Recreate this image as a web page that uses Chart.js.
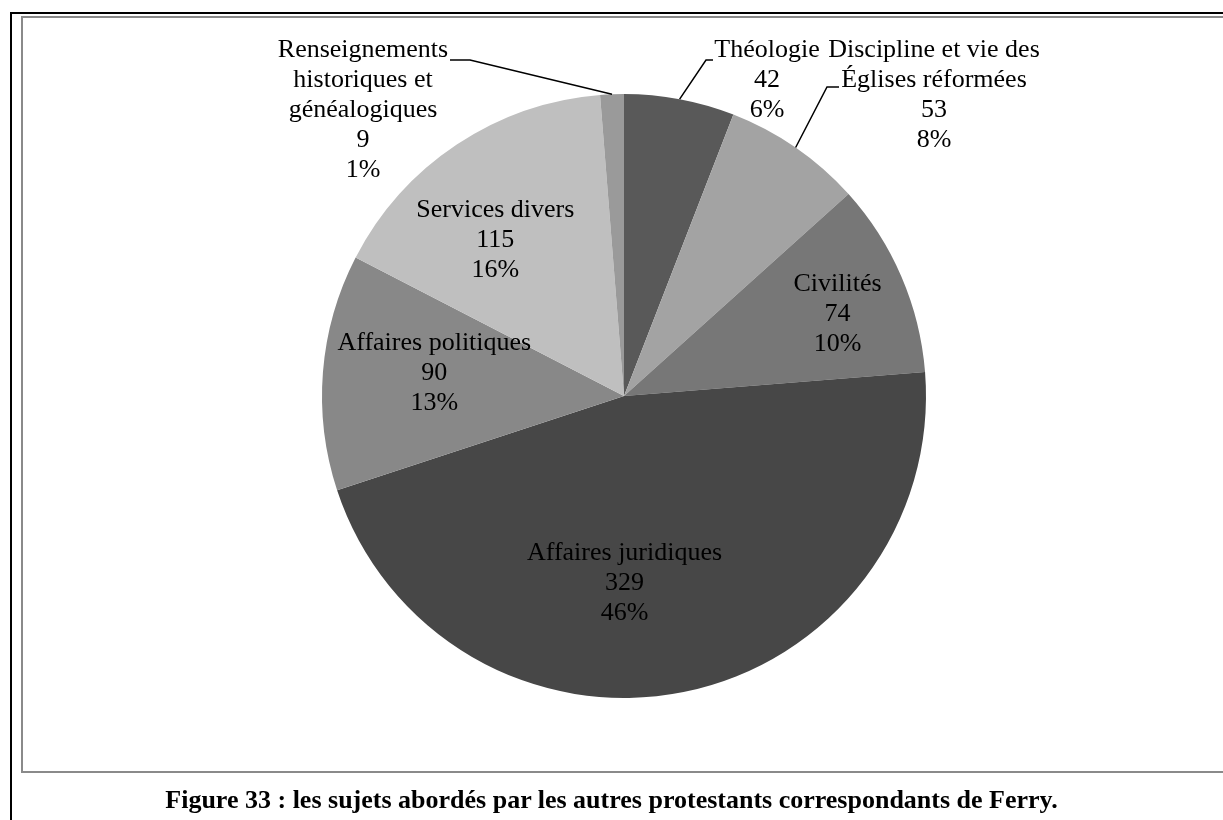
<!DOCTYPE html>
<html>
<head>
<meta charset="utf-8">
<script src="https://cdn.jsdelivr.net/npm/chart.js@4.4.1/dist/chart.umd.min.js"></script>
<style>
html, body { margin: 0; padding: 0; background: #fff; overflow: hidden; }
#wrap { position: relative; width: 1223px; height: 820px; }
#outer { position: absolute; left: 10px; top: 12px; width: 1300px; height: 900px; border: 2px solid #000; }
#inner { position: absolute; left: 21px; top: 16px; width: 1300px; height: 753px; border: 2px solid #8a8a8a; }
#chartBox { position: absolute; left: 0; top: 0; width: 1223px; height: 820px; }
#caption { position: absolute; left: 0; width: 1223px; top: 785px; text-align: center;
  font: bold 26px "Liberation Serif", "Times New Roman", serif; color: #000; }
</style>
</head>
<body>
<div id="wrap">
  <div id="outer"></div>
  <div id="inner"></div>
  <div id="chartBox"><canvas id="pieChart"></canvas></div>
  <div id="caption">Figure 33 : les sujets abordés par les autres protestants correspondants de Ferry.</div>
</div>
<script>
// Data
const categories = [
    'Théologie',
    'Discipline et vie des\nÉglises réformées',
    'Civilités',
    'Affaires juridiques',
    'Affaires politiques',
    'Services divers',
    'Renseignements\nhistoriques et\ngénéalogiques'
];
const values = [42, 53, 74, 329, 90, 115, 9];
const percentLabels = ['6%', '8%', '10%', '46%', '13%', '16%', '1%'];

const sliceColors = ['#595959', '#a3a3a3', '#777777', '#474747', '#888888', '#bfbfbf', '#9a9a9a'];

// label placement: inside labels sit along the slice bisector, outside ones get a leader line
const LINE_H = 30;
const labelLayout = [
    { inside: false, x: 767, y: 50, anchor: 0.5, elbow: [706, 60], tick: [713, 60] },
    { inside: false, x: 934, y: 50, anchor: 0.5, elbow: [827, 87], tick: [839, 87] },
    { inside: true, r: 0.755, dx: 4, dy: 8 },
    { inside: true, r: 0.63, dx: -37, dy: 1 },
    { inside: true, r: 0.63, dx: 0, dy: -8 },
    { inside: true, r: 0.62, dx: -25, dy: 0 },
    { inside: false, x: 363, y: 50, anchor: 0.5, elbow: [470, 60], tick: [450, 60] }
];

const sliceLabels = {
    id: 'sliceLabels',
    afterDatasetsDraw(chart) {
        const ctx = chart.ctx;
        const meta = chart.getDatasetMeta(0);
        ctx.save();
        ctx.font = '26px "Liberation Serif", "Times New Roman", serif';
        ctx.fillStyle = '#000';
        ctx.strokeStyle = '#000';
        ctx.lineWidth = 1.5;
        ctx.textAlign = 'center';
        ctx.textBaseline = 'middle';
        meta.data.forEach((arc, i) => {
            const p = arc.getProps(['x', 'y', 'startAngle', 'endAngle', 'outerRadius'], true);
            const lines = categories[i].split('\n').concat([String(values[i]), percentLabels[i]]);
            const L = labelLayout[i];
            if (L.inside) {
                const a = (p.startAngle + p.endAngle) / 2;
                const r = p.outerRadius * L.r;
                const x = p.x + Math.cos(a) * r + L.dx;
                const y = p.y + Math.sin(a) * r + L.dy;
                lines.forEach((t, k) => ctx.fillText(t, x, y + (k - (lines.length - 1) / 2) * LINE_H));
            } else {
                const a = p.startAngle + (p.endAngle - p.startAngle) * L.anchor;
                const ex = p.x + Math.cos(a) * p.outerRadius;
                const ey = p.y + Math.sin(a) * p.outerRadius;
                ctx.beginPath();
                ctx.moveTo(ex, ey);
                ctx.lineTo(L.elbow[0], L.elbow[1]);
                ctx.lineTo(L.tick[0], L.tick[1]);
                ctx.stroke();
                lines.forEach((t, k) => ctx.fillText(t, L.x, L.y + k * LINE_H));
            }
        });
        ctx.restore();
    }
};

const ctx = document.getElementById('pieChart').getContext('2d');
const pieChart = new Chart(ctx, {
    type: 'pie',
    data: {
        labels: categories,
        datasets: [{
            data: values,
            backgroundColor: sliceColors,
            borderWidth: 0
        }]
    },
    options: {
        responsive: true,
        maintainAspectRatio: false,
        animation: false,
        layout: {
            padding: { top: 94, bottom: 122, left: 25, right: 0 }
        },
        plugins: {
            legend: { display: false },
            tooltip: { enabled: false }
        }
    },
    plugins: [sliceLabels]
});
</script>
</body>
</html>
